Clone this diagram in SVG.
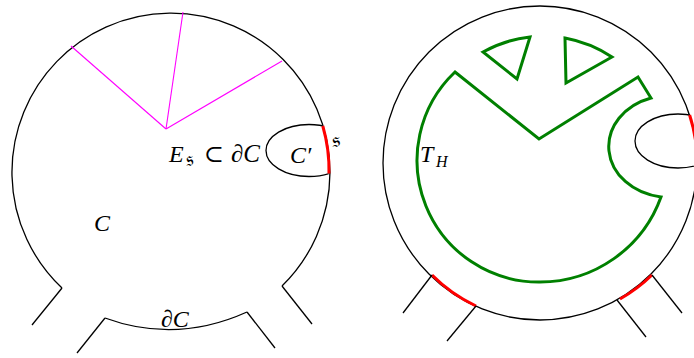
<svg xmlns="http://www.w3.org/2000/svg" width="694" height="358" viewBox="0 0 694 358">
<style>
.bk{fill:none;stroke:#000;stroke-width:1.3}
.rd{fill:none;stroke:#ff0000;stroke-width:3}
.gr{fill:none;stroke:#008000;stroke-width:3;stroke-linejoin:miter}
.mg{fill:none;stroke:#ff00ff;stroke-width:1.1}
.t{font-family:"Liberation Serif","DejaVu Serif",serif;font-style:italic;fill:#000}
.u{font-family:"Liberation Serif","DejaVu Serif",serif;fill:#000}
</style>
<defs>
<clipPath id="cl"><circle cx="170" cy="170" r="159"/></clipPath>
<clipPath id="cr"><circle cx="540" cy="163" r="157"/></clipPath>
</defs>
<rect width="694" height="358" fill="#fff"/>
<g id="left-region">
<path class="bk" d="M282,286 A159,159 0 1,0 62,288"/>
<path class="bk" d="M105,318 Q176,344 247,312"/>
<line class="bk" x1="62" y1="288" x2="32" y2="325"/>
<line class="bk" x1="282" y1="286" x2="312" y2="324"/>
<line class="bk" x1="105" y1="318" x2="77" y2="353"/>
<line class="bk" x1="247" y1="312" x2="275" y2="348"/>
</g>
<g id="left-rays">
<line class="mg" x1="166" y1="129" x2="71" y2="46"/>
<line class="mg" x1="166" y1="129" x2="183" y2="12"/>
<line class="mg" x1="166" y1="129" x2="282" y2="61"/>
</g>
<g id="left-subregion">
<ellipse class="bk" cx="309" cy="150.5" rx="43" ry="26" clip-path="url(#cl)"/>
<path class="rd" d="M322.8,126 A159,159 0 0,1 329,173.5"/>
</g>
<g id="right-region">
<circle class="bk" cx="540" cy="163" r="157"/>
<path class="rd" d="M432,275 A157,157 0 0,0 476,306"/>
<path class="rd" d="M620,299 A157,157 0 0,0 652,275"/>
<line class="bk" x1="432" y1="275" x2="403" y2="313"/>
<line class="bk" x1="476" y1="306" x2="447" y2="341"/>
<line class="bk" x1="617" y1="300" x2="646" y2="337"/>
<line class="bk" x1="652" y1="275" x2="682" y2="313"/>
<ellipse class="bk" cx="678" cy="141" rx="43" ry="27" clip-path="url(#cr)"/>
<path class="rd" d="M689.6,115 A157,157 0 0,1 697,170"/>
</g>
<g id="green-shapes">
<path class="gr" d="M455,72 L539,139 L638,77 L651,98 A61,51 0 0,0 661,197 A128.6,128.6 0 0,1 540,282 A121.7,121.7 0 0,1 455,72 Z"/>
<path class="gr" d="M483,52 A125,125 0 0,1 530,37 L517,79 Z"/>
<path class="gr" d="M565,38 A127,127 0 0,1 612,57 L566,83 Z"/>
</g>
<g id="labels">
<text class="t" x="169" y="162" font-size="24">E</text>
<text class="u" x="186" y="166" font-size="20">𝔰</text>
<text class="u" x="204" y="162" font-size="24">⊂</text>
<text class="t" x="231" y="162" font-size="25">∂C</text>
<text class="t" x="290" y="163" font-size="24">C′</text>
<text class="u" x="332" y="147" font-size="22">𝔰</text>
<text class="t" x="94" y="231" font-size="24">C</text>
<text class="t" x="161" y="327" font-size="24">∂C</text>
<text class="t" x="420" y="162" font-size="24">T</text>
<text class="t" x="436" y="167" font-size="16">H</text>
</g>
</svg>
